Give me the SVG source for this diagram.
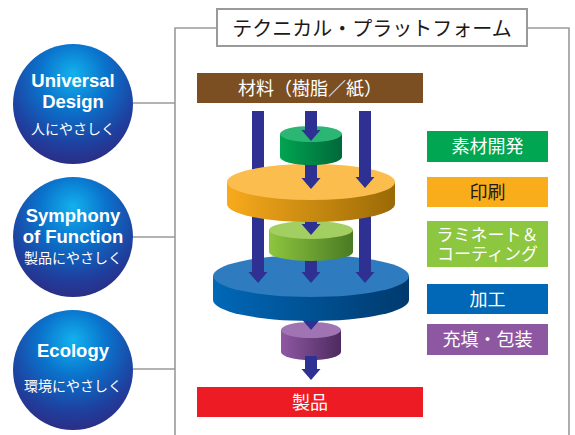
<svg xmlns="http://www.w3.org/2000/svg" width="575" height="435" viewBox="0 0 575 435">
  <defs>
    <radialGradient id="sphere" cx="50%" cy="30%" r="70%" fx="50%" fy="25%">
      <stop offset="0" stop-color="#12b2ee"/>
      <stop offset="0.4" stop-color="#0a73cc"/>
      <stop offset="0.8" stop-color="#1f3f9e"/>
      <stop offset="1" stop-color="#2b2e86"/>
    </radialGradient>
    <linearGradient id="sideGreen" x1="0" x2="1" y1="0" y2="0">
      <stop offset="0" stop-color="#00a551"/><stop offset="1" stop-color="#00683a"/>
    </linearGradient>
    <linearGradient id="sideOrange" x1="0" x2="1" y1="0" y2="0">
      <stop offset="0" stop-color="#f8aa1c"/><stop offset="1" stop-color="#9a6a06"/>
    </linearGradient>
    <linearGradient id="sideLime" x1="0" x2="1" y1="0" y2="0">
      <stop offset="0" stop-color="#8dc63f"/><stop offset="1" stop-color="#4a7a23"/>
    </linearGradient>
    <linearGradient id="sideBlue" x1="0" x2="1" y1="0" y2="0">
      <stop offset="0" stop-color="#0068b7"/><stop offset="1" stop-color="#003a6e"/>
    </linearGradient>
    <linearGradient id="sidePurple" x1="0" x2="1" y1="0" y2="0">
      <stop offset="0" stop-color="#8e58a2"/><stop offset="1" stop-color="#4d2a5f"/>
    </linearGradient>
  </defs>
  <style>
    .frame { fill: none; stroke: #9a9a9a; stroke-width: 1.6; }
    .ball { fill: url(#sphere); }
    .en { font-family: "Liberation Sans", Arial, sans-serif; font-weight: bold; font-size: 18.5px; fill: #ffffff; text-anchor: middle; }
    .jp { font-family: "Noto Sans CJK JP", "Noto Sans", sans-serif; fill: #ffffff; text-anchor: middle; }
    .small { font-size: 14px; }
    .bar { font-size: 18px; }
    .tag { font-size: 17px; }
    .arrow { fill: #2e3192; }
  </style>

  <!-- platform frame -->
  <g id="platform-frame">
    <path class="frame" d="M175,435 V28 H217 M527,28 H569 V435"/>
    <rect x="217" y="9" width="310" height="37" fill="#ffffff" stroke="#9a9a9a" stroke-width="2"/>
    <text x="372" y="36" class="jp" style="font-size:20px; fill:#231815">テクニカル・プラットフォーム</text>
  </g>

  <!-- links from the three values to the frame -->
  <g id="value-links">
    <path class="frame" d="M133,103 H175 M133,237 H175 M133,369 H175"/>
  </g>

  <g id="universal-design">
    <circle class="ball" cx="73" cy="104" r="60"/>
    <text x="73" y="87" class="en">Universal</text>
    <text x="73" y="108" class="en">Design</text>
    <text x="73" y="134" class="jp small">人にやさしく</text>
  </g>
  <g id="symphony-of-function">
    <circle class="ball" cx="73" cy="237" r="60"/>
    <text x="73" y="222" class="en">Symphony</text>
    <text x="73" y="243" class="en">of Function</text>
    <text x="73" y="263" class="jp small">製品にやさしく</text>
  </g>
  <g id="ecology">
    <circle class="ball" cx="73" cy="370" r="60"/>
    <text x="73" y="357" class="en">Ecology</text>
    <text x="73" y="391" class="jp small">環境にやさしく</text>
  </g>

  <!-- source and product bars -->
  <g id="material">
    <rect x="197" y="73" width="226" height="30" fill="#7b4f22"/>
    <text x="310" y="95" class="jp bar">材料（樹脂／紙）</text>
  </g>
  <g id="product">
    <rect x="197" y="387" width="226" height="30" fill="#ed1c24"/>
    <text x="310" y="409" class="jp bar">製品</text>
  </g>

  <!-- process stack, drawn bottom-up so upper disks cover lower ones -->
  <g id="disk-packaging">
    <path d="M281,330 V352 A30,8 0 0 0 341,352 V330 Z" fill="url(#sidePurple)"/>
    <ellipse cx="311" cy="330" rx="30" ry="8" fill="#a074b3"/>
  </g>
  <g id="flow-out" class="connector">
    <path class="arrow" d="M305,356 H317 V369 H320.5 L311,380 L301.5,369 H305 Z"/>
    <path class="arrow" d="M305,305 H317 V319 H320.5 L311,330 L301.5,319 H305 Z"/>
  </g>
  <g id="disk-converting">
    <path d="M213,276 V300 A98,21 0 0 0 409,300 V276 Z" fill="url(#sideBlue)"/>
    <ellipse cx="311" cy="276" rx="98" ry="21" fill="#2e7bbf"/>
  </g>
  <g id="flow-to-converting" class="connector">
    <path class="arrow" d="M252,111 H264 V272 H267.5 L258,283 L248.5,272 H252 Z"/>
    <path class="arrow" d="M359,111 H371 V272 H374.5 L365,283 L355.5,272 H359 Z"/>
    <path class="arrow" d="M305,250 H317 V272 H320.5 L311,283 L301.5,272 H305 Z"/>
  </g>
  <g id="disk-laminating">
    <path d="M269,230 V252 A42,9 0 0 0 353,252 V230 Z" fill="url(#sideLime)"/>
    <ellipse cx="311" cy="230" rx="42" ry="9" fill="#a3cf62"/>
  </g>
  <g id="flow-to-laminating" class="connector">
    <path class="arrow" d="M305,200 H317 V224 H320.5 L311,235 L301.5,224 H305 Z"/>
  </g>
  <g id="disk-printing">
    <path d="M227,182 V204 A84,18 0 0 0 395,204 V182 Z" fill="url(#sideOrange)"/>
    <ellipse cx="311" cy="182" rx="84" ry="18" fill="#fbbd4e"/>
  </g>
  <g id="flow-to-printing" class="connector">
    <path class="arrow" d="M359,111 H371 V177 H374.5 L365,188 L355.5,177 H359 Z"/>
    <path class="arrow" d="M305,150 H317 V178 H320.5 L311,189 L301.5,178 H305 Z"/>
  </g>
  <g id="disk-materials">
    <path d="M280,134 V157 A31,8 0 0 0 342,157 V134 Z" fill="url(#sideGreen)"/>
    <ellipse cx="311" cy="134" rx="31" ry="8" fill="#2bb673"/>
  </g>
  <g id="flow-to-materials" class="connector">
    <path class="arrow" d="M305,111 H317 V130 H320.5 L311,141 L301.5,130 H305 Z"/>
  </g>

  <!-- legend of process stages -->
  <g id="label-materials">
    <rect x="427" y="131" width="121" height="31" fill="#00a651"/>
    <text x="487.5" y="153" class="jp bar">素材開発</text>
  </g>
  <g id="label-printing">
    <rect x="427" y="177" width="121" height="30" fill="#f9ad1b"/>
    <text x="487.5" y="199" class="jp bar" style="fill:#231815">印刷</text>
  </g>
  <g id="label-laminating">
    <rect x="427" y="221" width="121" height="46" fill="#8dc63f"/>
    <text class="jp tag"><tspan x="487.5" y="241">ラミネート＆</tspan><tspan x="487.5" y="260">コーティング</tspan></text>
  </g>
  <g id="label-converting">
    <rect x="427" y="284" width="121" height="30" fill="#0068b7"/>
    <text x="487.5" y="306" class="jp bar">加工</text>
  </g>
  <g id="label-packaging">
    <rect x="427" y="324" width="121" height="31" fill="#8e57a2"/>
    <text x="487.5" y="346" class="jp bar">充填・包装</text>
  </g>
</svg>
